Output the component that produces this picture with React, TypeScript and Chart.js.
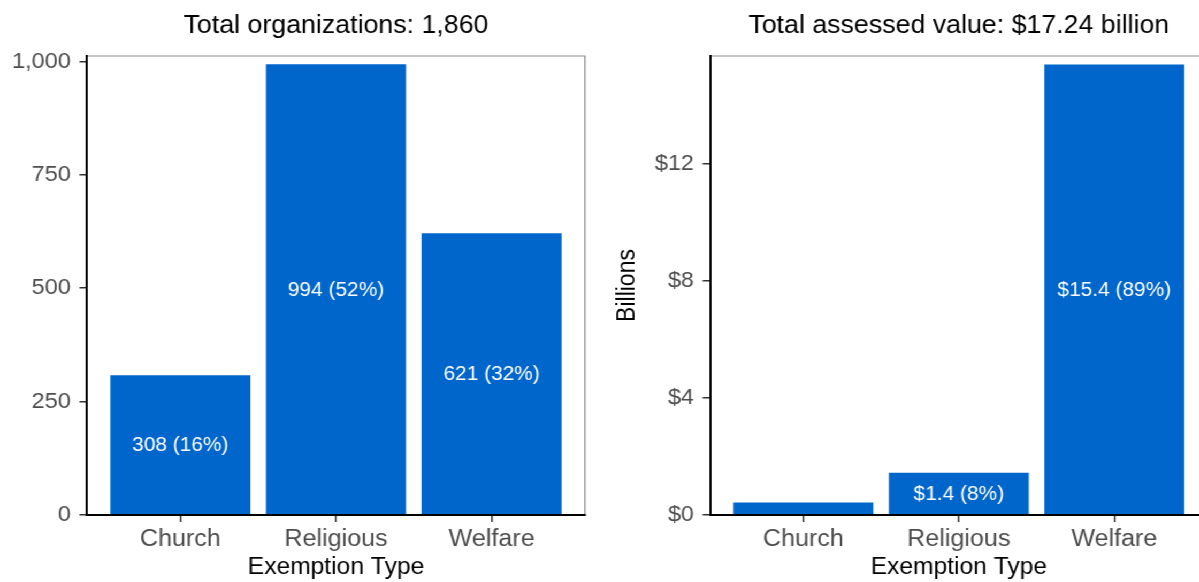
import React, { useEffect, useRef } from 'react';
import { Chart, registerables } from 'chart.js';

Chart.register(...registerables);

// ---- data ----
const categories = ['Church', 'Religious', 'Welfare'];
const orgCounts = [308, 994, 621];
const orgLabels = ['308 (16%)', '994 (52%)', '621 (32%)'];
const orgTicks = [0, 250, 500, 750, 1000];
const valueBillions = [0.43, 1.44, 15.39];
const valueLabels = ['', '$1.4 (8%)', '$15.4 (89%)'];
const valueTicks = [0, 4, 8, 12];
const leftTitle = 'Total organizations: 1,860';
const rightTitle = 'Total assessed value: $17.24 billion';
const xTitle = 'Exemption Type';
const rightYTitle = 'Billions';

// ---- style ----
const SX = 1.07;
const FONT = "'Liberation Sans', Arial, Helvetica, sans-serif";
const BAR = '#0066CC';

Chart.defaults.font.family = FONT;

const barLabelPlugin = {
  id: 'barLabels',
  afterDatasetsDraw(chart: any, _args: any, opts: any) {
    const meta = chart.getDatasetMeta(0);
    const ctx = chart.ctx;
    ctx.save();
    ctx.font = `19.5px ${FONT}`;
    ctx.fillStyle = '#ffffff';
    ctx.textAlign = 'center';
    ctx.textBaseline = 'middle';
    meta.data.forEach((el: any, i: number) => {
      const t = opts.labels[i];
      if (!t) return;
      const { x, y, base } = el.getProps(['x', 'y', 'base'], true);
      ctx.fillText(t, x, (y + base) / 2 + 1);
    });
    ctx.restore();
  },
};

const framePlugin = {
  id: 'frame',
  afterDatasetsDraw(chart: any, _args: any, opts: any) {
    const { ctx, chartArea: a } = chart;
    ctx.save();
    ctx.strokeStyle = '#8a8a8a';
    ctx.lineWidth = 1.2;
    ctx.beginPath();
    ctx.moveTo(a.left, a.top);
    ctx.lineTo(a.right, a.top);
    if (opts.right) ctx.lineTo(a.right, a.bottom);
    ctx.stroke();
    ctx.restore();
  },
};

function makeConfig(p: {
  values: number[];
  labels: string[];
  ticks: number[];
  yMax: number;
  yFmt: (v: number) => string;
  title: string;
  yTitle?: string;
  yWidth: number;
  padRight: number;
  rightBorder: boolean;
}): any {
  return {
    type: 'bar',
    data: {
      datasets: [
        {
          data: p.values.map((v, i) => ({ x: i, y: v })),
          backgroundColor: BAR,
          borderWidth: 0,
          barPercentage: 0.9,
          categoryPercentage: 1,
        },
      ],
    },
    options: {
      animation: false,
      responsive: false,
      devicePixelRatio: 1,
      layout: { padding: { left: 0, right: p.padRight, top: 0, bottom: 0 } },
      plugins: {
        legend: { display: false },
        tooltip: { enabled: false },
        title: {
          display: true,
          text: p.title,
          color: '#000000',
          fullSize: false,
          font: { size: 25, weight: 'normal', family: FONT },
          padding: { top: 11, bottom: 15 },
        },
        barLabels: { labels: p.labels },
        frame: { right: p.rightBorder },
      },
      scales: {
        x: {
          type: 'linear',
          min: -0.6,
          max: 2.6,
          offset: false,
          afterBuildTicks: (s: any) => {
            s.ticks = categories.map((_, i) => ({ value: i }));
          },
          afterFit: (s: any) => {
            s.height = 67;
            s.paddingLeft = 0;
            s.paddingRight = 0;
          },
          ticks: {
            autoSkip: false,
            maxRotation: 0,
            minRotation: 0,
            color: '#4d4d4d',
            font: { size: 23.5, family: FONT },
            padding: 3,
            callback: (v: number) => categories[v],
          },
          grid: { drawOnChartArea: false, drawTicks: true, tickLength: 7, color: '#333333', lineWidth: 1.5, offset: false },
          border: { display: true, color: '#000000', width: 2, z: 1 },
          title: {
            display: true,
            text: xTitle,
            color: '#000000',
            font: { size: 23, family: FONT },
            padding: { top: 0, bottom: 1 },
          },
        },
        y: {
          type: 'linear',
          min: 0,
          max: p.yMax,
          afterBuildTicks: (s: any) => {
            s.ticks = p.ticks.map((v) => ({ value: v }));
          },
          afterFit: (s: any) => {
            s.width = p.yWidth;
            s.paddingTop = 0;
            s.paddingBottom = 0;
          },
          ticks: {
            color: '#4d4d4d',
            font: { size: 22, family: FONT },
            padding: 8,
            callback: (v: number) => p.yFmt(v),
          },
          grid: { drawOnChartArea: false, drawTicks: true, tickLength: 7, color: '#333333', lineWidth: 1.5 },
          border: { display: true, color: '#000000', width: 2, z: 1 },
          title: p.yTitle
            ? {
                display: true,
                text: p.yTitle,
                color: '#000000',
                font: { size: 23, family: FONT },
                padding: { top: 13, bottom: 0 },
              }
            : { display: false },
        },
      },
    },
    plugins: [barLabelPlugin, framePlugin],
  };
}

export default function App() {
  const r1 = useRef<HTMLCanvasElement | null>(null);
  const r2 = useRef<HTMLCanvasElement | null>(null);

  useEffect(() => {
    const c1 = new Chart(
      r1.current as HTMLCanvasElement,
      makeConfig({
        values: orgCounts,
        labels: orgLabels,
        ticks: orgTicks,
        yMax: 1012,
        yFmt: (v) => v.toLocaleString('en-US'),
        title: leftTitle,
        yWidth: 81.3,
        padRight: 13.3,
        rightBorder: true,
      })
    );
    const c2 = new Chart(
      r2.current as HTMLCanvasElement,
      makeConfig({
        values: valueBillions,
        labels: valueLabels,
        ticks: valueTicks,
        yMax: 15.68,
        yFmt: (v) => '$' + v,
        title: rightTitle,
        yTitle: rightYTitle,
        yWidth: 103.6,
        padRight: 31.4,
        rightBorder: false,
      })
    );
    return () => {
      c1.destroy();
      c2.destroy();
    };
  }, []);

  return (
    <div
      style={{
        position: 'fixed',
        left: 0,
        top: 0,
        width: 1199,
        height: 582,
        overflow: 'hidden',
        background: '#ffffff',
      }}
    >
      <div
        style={{
          position: 'absolute',
          left: 0,
          top: 0,
          width: 1160,
          height: 582,
          transform: `scaleX(${SX})`,
          transformOrigin: '0 0',
        }}
      >
        <canvas
          ref={r1}
          width={560}
          height={582}
          style={{ position: 'absolute', left: 0, top: 0, width: 560, height: 582 }}
        />
        <canvas
          ref={r2}
          width={600}
          height={582}
          style={{ position: 'absolute', left: 560, top: 0, width: 600, height: 582 }}
        />
      </div>
      <div
        style={{
          position: 'absolute',
          left: 1188,
          top: 58,
          width: 11,
          height: 456,
          background: '#ffffff',
        }}
      />
    </div>
  );
}
